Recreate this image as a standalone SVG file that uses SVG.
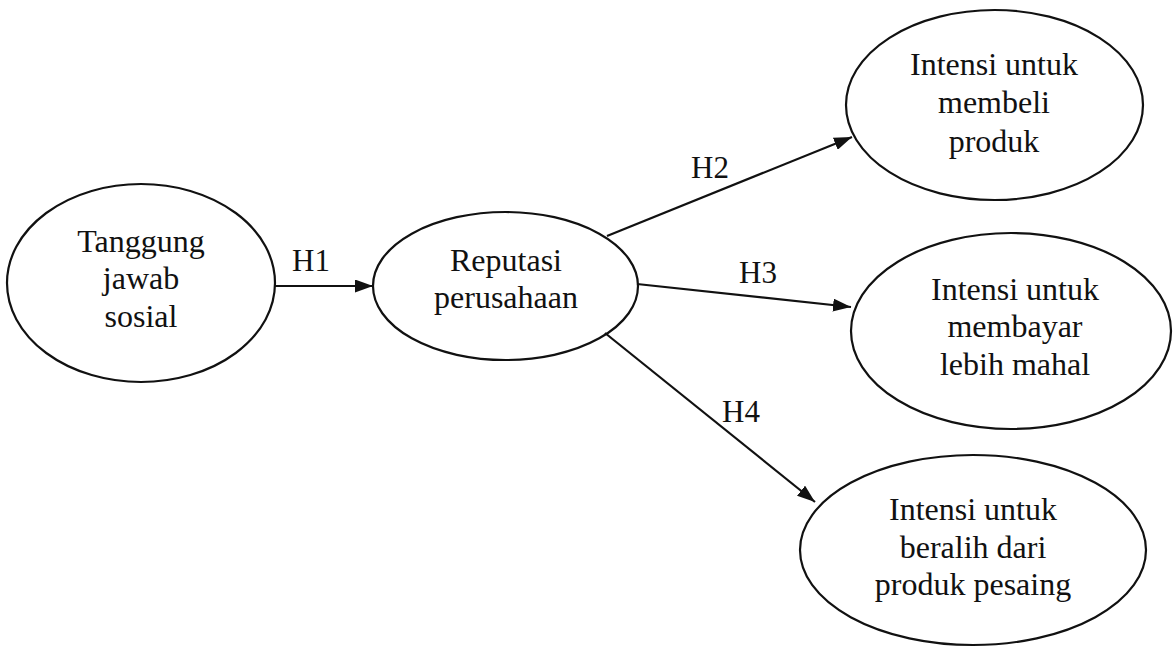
<svg xmlns="http://www.w3.org/2000/svg" width="1175" height="649" viewBox="0 0 1175 649">
<style>
.node ellipse{fill:none;stroke:#111;stroke-width:2.2}
.node text{font-family:"Liberation Serif","Times New Roman",serif;font-size:32px;fill:#111;text-anchor:middle}
.edge line{stroke:#111;stroke-width:2.2}
.lbl{font-family:"Liberation Serif","Times New Roman",serif;font-size:31px;fill:#111;text-anchor:middle}
</style>
<defs>
<marker id="arr" markerUnits="userSpaceOnUse" markerWidth="18" markerHeight="13" refX="18" refY="6.5" orient="auto">
<path d="M0,0 L18,6.5 L0,13 Z" fill="#111"/>
</marker>
</defs>
<rect width="1175" height="649" fill="#fff"/>
<g id="connectors" class="edge">
<line x1="275" y1="286" x2="373" y2="286" marker-end="url(#arr)"/>
<line x1="607" y1="236" x2="852" y2="137" marker-end="url(#arr)"/>
<line x1="637" y1="284" x2="851" y2="307" marker-end="url(#arr)"/>
<line x1="605" y1="333" x2="815" y2="502" marker-end="url(#arr)"/>
<text class="lbl" x="311" y="271">H1</text>
<text class="lbl" x="710" y="178">H2</text>
<text class="lbl" x="758" y="283">H3</text>
<text class="lbl" x="741" y="422">H4</text>
</g>
<g id="node-tanggung" class="node">
<ellipse cx="141" cy="283" rx="134" ry="99"/>
<text x="141" y="252">Tanggung</text>
<text x="141" y="289">jawab</text>
<text x="141" y="327">sosial</text>
</g>
<g id="node-reputasi" class="node">
<ellipse cx="505.5" cy="286" rx="132.5" ry="74"/>
<text x="506" y="271">Reputasi</text>
<text x="506" y="308">perusahaan</text>
</g>
<g id="node-membeli" class="node">
<ellipse cx="994.5" cy="105" rx="148.5" ry="95"/>
<text x="994" y="75">Intensi untuk</text>
<text x="994" y="113">membeli</text>
<text x="994" y="152">produk</text>
</g>
<g id="node-membayar" class="node">
<ellipse cx="1011" cy="331" rx="160" ry="98"/>
<text x="1015" y="300">Intensi untuk</text>
<text x="1015" y="337">membayar</text>
<text x="1015" y="375">lebih mahal</text>
</g>
<g id="node-beralih" class="node">
<ellipse cx="973" cy="550" rx="173" ry="95"/>
<text x="973" y="520">Intensi untuk</text>
<text x="973" y="558">beralih dari</text>
<text x="973" y="595">produk pesaing</text>
</g>
</svg>
